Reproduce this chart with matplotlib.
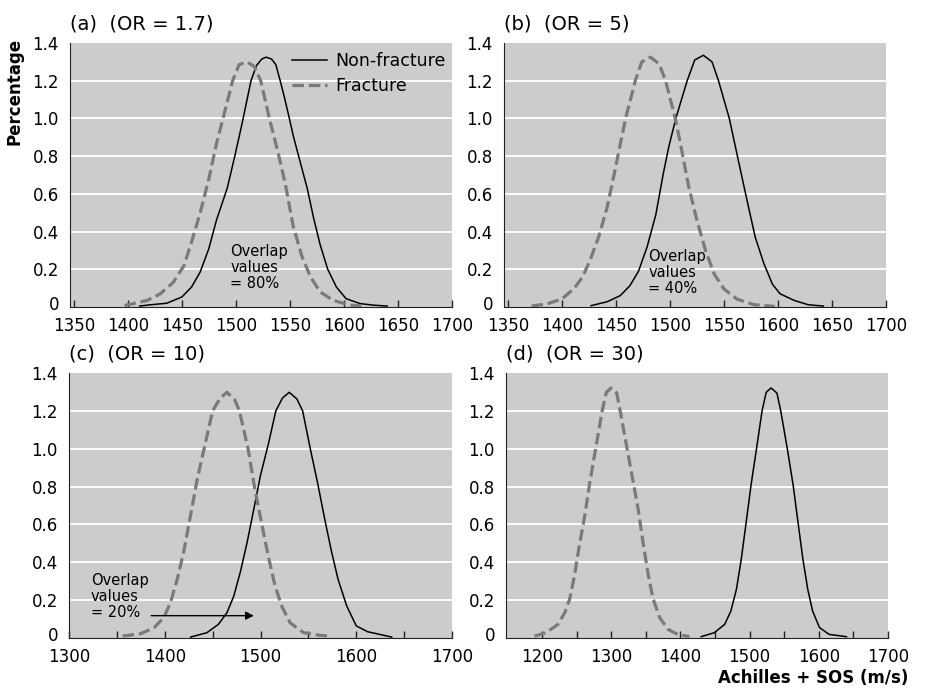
import matplotlib.pyplot as plt
from matplotlib.transforms import ScaledTranslation

plt.rcParams['font.family'] = 'DejaVu Sans'
plt.rcParams['font.size'] = 12

# values: Achilles SOS (m/s) vs percentage
# (a) OR = 1.7
a_non_x = [1411, 1418, 1436, 1450, 1459, 1467, 1475, 1482, 1492, 1499, 1506, 1510, 1514, 1519,
           1524, 1528, 1533, 1537, 1541, 1545, 1549.5, 1553, 1559, 1566, 1572, 1578, 1585, 1593,
           1602, 1615, 1627, 1640]
a_non_y = [0.005, 0.01, 0.02, 0.053, 0.106, 0.186, 0.31, 0.46, 0.63, 0.80, 0.98, 1.09, 1.2, 1.28,
           1.315, 1.325, 1.315, 1.285, 1.2, 1.11, 1.0, 0.91, 0.78, 0.63, 0.47, 0.33, 0.20, 0.106,
           0.044, 0.018, 0.01, 0.005]
a_fra_x = [1397, 1402, 1418, 1430, 1442, 1452, 1459, 1467, 1475, 1482, 1489, 1497, 1503, 1510,
           1517, 1523, 1531, 1539, 1546, 1553, 1561, 1569, 1578, 1590, 1606, 1616]
a_fra_y = [0.008, 0.014, 0.035, 0.07, 0.13, 0.22, 0.345, 0.50, 0.68, 0.865, 1.02, 1.2, 1.285, 1.30,
           1.276, 1.2, 1.0, 0.82, 0.645, 0.43, 0.27, 0.16, 0.08, 0.035, 0.01, 0.005]

# (b) OR = 5
b_non_x = [1427, 1442, 1454, 1463, 1471, 1479, 1487, 1494, 1499, 1505.5, 1516, 1523, 1531, 1539,
           1545, 1555, 1564, 1572, 1579, 1587, 1595, 1602, 1615, 1628, 1642]
b_non_y = [0.007, 0.028, 0.06, 0.113, 0.19, 0.32, 0.49, 0.71, 0.85, 1.0, 1.2, 1.31, 1.335, 1.30,
           1.2, 1.0, 0.76, 0.55, 0.37, 0.23, 0.12, 0.07, 0.035, 0.012, 0.005]
b_fra_x = [1372, 1386, 1400, 1411, 1419, 1426, 1434, 1442, 1449, 1459, 1468, 1474, 1482, 1490,
           1496, 1505, 1511, 1517, 1525, 1533, 1541, 1550, 1562, 1578, 1597]
b_fra_y = [0.005, 0.016, 0.042, 0.096, 0.157, 0.246, 0.37, 0.53, 0.72, 1.0, 1.2, 1.30, 1.325, 1.29,
           1.2, 1.0, 0.83, 0.65, 0.46, 0.30, 0.175, 0.096, 0.042, 0.012, 0.003]

# (c) OR = 10
c_non_x = [1427, 1444, 1456, 1465, 1472, 1479, 1486, 1493, 1500, 1508, 1516, 1523, 1530, 1538,
           1544, 1552, 1560, 1567, 1574, 1581, 1590, 1600, 1612, 1637]
c_non_y = [0.005, 0.028, 0.072, 0.134, 0.22, 0.35, 0.505, 0.68, 0.86, 1.02, 1.2, 1.268, 1.298, 1.263,
           1.2, 1.0, 0.81, 0.63, 0.46, 0.31, 0.17, 0.064, 0.033, 0.005]
c_fra_x = [1356, 1375, 1389, 1399, 1406, 1413, 1420, 1427, 1434, 1442, 1450, 1458, 1465, 1473,
           1478, 1487, 1494, 1501, 1508, 1515, 1522, 1531, 1545, 1562, 1572]
c_fra_y = [0.01, 0.023, 0.055, 0.108, 0.187, 0.31, 0.46, 0.65, 0.84, 1.02, 1.2, 1.268, 1.298, 1.259,
           1.2, 1.0, 0.79, 0.61, 0.435, 0.28, 0.17, 0.08, 0.028, 0.014, 0.01]

# (d) OR = 30
d_non_x = [1430, 1449, 1464, 1473, 1481, 1488, 1495, 1502, 1510, 1518, 1524, 1531, 1539.5, 1545,
           1554.5, 1563, 1570, 1577, 1584, 1591, 1601, 1615, 1640]
d_non_y = [0.007, 0.028, 0.072, 0.143, 0.258, 0.417, 0.61, 0.806, 1.0, 1.2, 1.298, 1.321, 1.294, 1.2,
           1.0, 0.806, 0.61, 0.417, 0.258, 0.143, 0.055, 0.019, 0.007]
d_fra_x = [1189, 1206, 1223, 1233, 1240, 1247, 1254, 1262, 1269, 1277.5, 1287, 1293, 1300, 1308,
           1313, 1323, 1331, 1339, 1346, 1353, 1360, 1370, 1382, 1396, 1413]
d_fra_y = [0.01, 0.028, 0.072, 0.134, 0.205, 0.33, 0.49, 0.65, 0.82, 1.0, 1.2, 1.298, 1.321, 1.294,
           1.2, 1.0, 0.84, 0.68, 0.505, 0.346, 0.214, 0.108, 0.046, 0.019, 0.007]

yticks = [0, 0.2, 0.4, 0.6, 0.8, 1.0, 1.2, 1.4]
ylabels = ['0', '0.2', '0.4', '0.6', '0.8', '1.0', '1.2', '1.4']

titles = ['(a)  (OR = 1.7)', '(b)  (OR = 5)', '(c)  (OR = 10)', '(d)  (OR = 30)']
overlap = ['Overlap\nvalues\n= 80%', 'Overlap\nvalues\n= 40%', 'Overlap\nvalues\n= 20%']

gray_bg = '#cccccc'
dash_col = '#7a7a7a'

fig = plt.figure(figsize=(9.34, 6.91), dpi=100)

W, H = 934, 691
def px_axes(l, t, r, b):
    return fig.add_axes([l / W, 1 - b / H, (r - l) / W, (b - t) / H])

axa = px_axes(70, 43, 452, 307)
axb = px_axes(504, 43, 886, 307)
axc = px_axes(69, 373, 452, 638)
axd = px_axes(506, 373, 888, 638)


def style(ax, xlim, major, minor):
    ax.set_facecolor(gray_bg)
    ax.set_xlim(xlim)
    ax.set_ylim(0, 1.4)
    for y in yticks[1:-1]:
        ax.axhline(y, color='white', lw=1.3, zorder=1)
    for s in ['top', 'right']:
        ax.spines[s].set_visible(False)
    ax.spines['left'].set_color('#222222')
    ax.spines['bottom'].set_color('#222222')
    ax.set_xticks(major)
    ax.set_xticks(minor, minor=True)
    ax.set_xticklabels([str(v) for v in major])
    ax.tick_params(axis='x', which='both', direction='in', length=5, width=1, pad=7, color='#222222')
    ax.set_yticks(yticks)
    ax.set_yticklabels(ylabels)
    ax.tick_params(axis='y', length=0, pad=8)
    # the "0" sits a little above the axis line in the original
    lab0 = ax.get_yticklabels()[0]
    lab0.set_transform(lab0.get_transform() + ScaledTranslation(0, 3 / 72, fig.dpi_scale_trans))


style(axa, (1346.5, 1700), list(range(1350, 1701, 50)), [])
style(axb, (1346.5, 1700), list(range(1350, 1701, 50)), [])
style(axc, (1300, 1700), list(range(1300, 1701, 100)), list(range(1350, 1700, 100)))
style(axd, (1148, 1700), list(range(1200, 1701, 100)), list(range(1250, 1700, 100)))

panels = [
    (axa, a_non_x, a_non_y, a_fra_x, a_fra_y),
    (axb, b_non_x, b_non_y, b_fra_x, b_fra_y),
    (axc, c_non_x, c_non_y, c_fra_x, c_fra_y),
    (axd, d_non_x, d_non_y, d_fra_x, d_fra_y),
]

for i, (ax, nx, ny, fx, fy) in enumerate(panels):
    ax.plot(nx, ny, color='black', lw=1.1, zorder=3, solid_joinstyle='round', label='Non-fracture')
    ax.plot(fx, fy, color=dash_col, lw=2.3, ls=(0, (3.6, 1.5)), zorder=3, label='Fracture')
    ax.text(0, 1.035, titles[i], transform=ax.transAxes, ha='left', va='bottom', fontsize=14)

leg = axa.legend(loc='upper right', bbox_to_anchor=(1.005, 1.0), frameon=False, fontsize=12.5,
                 handlelength=2.0, handletextpad=0.45, labelspacing=0.45, borderaxespad=0.1)

axa.text(1495, 0.335, overlap[0], ha='left', va='top', fontsize=10.5, linespacing=1.1)
axb.text(1480, 0.31, overlap[1], ha='left', va='top', fontsize=10.5, linespacing=1.1)
axc.text(1323, 0.345, overlap[2], ha='left', va='top', fontsize=10.5, linespacing=1.1)
axc.annotate('', xy=(1496, 0.118), xytext=(1383, 0.118),
             arrowprops=dict(arrowstyle='-|>', color='black', lw=1, mutation_scale=12))

fig.text(15 / W, 1 - 91 / H, 'Percentage', rotation=90, ha='center', va='center',
         fontsize=12, fontweight='bold')
fig.text(908 / W, 1 - 678 / H, 'Achilles + SOS (m/s)', ha='right', va='center',
         fontsize=12, fontweight='bold')

fig.savefig('out.png', dpi=100)
